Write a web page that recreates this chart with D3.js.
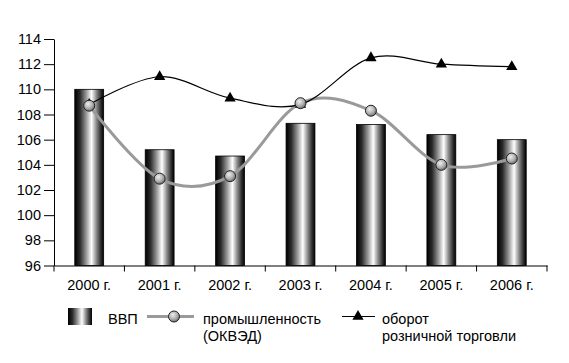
<!DOCTYPE html>
<html><head><meta charset="utf-8">
<script src="https://cdn.jsdelivr.net/npm/d3@7"></script>
<style>
body{margin:0;background:#fff;}
svg{display:block;font-family:"Liberation Sans",Arial,Helvetica,sans-serif;}
</style></head>
<body><svg id="c" width="569" height="363"></svg>
<script>
const years = ["2000 г.","2001 г.","2002 г.","2003 г.","2004 г.","2005 г.","2006 г."];
const gdp = [110.0,105.2,104.7,107.3,107.2,106.4,106.0];
const industry = [108.7,102.9,103.1,108.9,108.3,104.0,104.5];
const retail = [108.8,111.0,109.3,108.8,112.5,112.0,111.8];
const yTicks = [96,98,100,102,104,106,108,110,112,114];
const legendLabels = [["ВВП"],["промышленность","(ОКВЭД)"],["оборот","розничной торговли"]];

const FS = 14.5;
const svg = d3.select("#c");
const x = d3.scaleBand().domain(years).range([54,547]).paddingInner(0).paddingOuter(0);
const y = d3.scaleLinear().domain([96,114]).range([265.5,39]);

const defs = svg.append("defs");
const g1 = defs.append("linearGradient").attr("id","barg").attr("x1","0").attr("x2","1").attr("y1","0").attr("y2","0");
[[0,"#000"],[0.18,"#2a2a2a"],[0.4,"#9a9a9a"],[0.58,"#ffffff"],[0.75,"#8a8a8a"],[0.9,"#303030"],[1,"#000"]]
  .forEach(([o,c])=>g1.append("stop").attr("offset",o).attr("stop-color",c));
const g2 = defs.append("radialGradient").attr("id","circg").attr("cx","0.4").attr("cy","0.35").attr("r","0.65");
[[0,"#eeeeee"],[0.6,"#b0b0b0"],[1,"#707070"]].forEach(([o,c])=>g2.append("stop").attr("offset",o).attr("stop-color",c));

// bars
const bw = x.bandwidth()*0.41;
svg.append("g").selectAll("rect").data(gdp).join("rect")
  .attr("x",(d,i)=>x(years[i])+x.bandwidth()/2-bw/2)
  .attr("y",d=>y(d)).attr("width",bw).attr("height",d=>y(96)-y(d))
  .attr("fill","url(#barg)").attr("stroke","#000").attr("stroke-width",0.8);

// axes
const ya = d3.axisLeft(y).tickValues(yTicks).tickSize(10).tickSizeOuter(0).tickPadding(3).tickFormat(d3.format("d"));
const yg = svg.append("g").attr("transform","translate(54,0)").call(ya);
yg.selectAll("text").attr("font-size",FS).attr("fill","#000").attr("font-family","Liberation Sans, Arial, sans-serif");
yg.selectAll("line,path").attr("stroke","#000");

const xa = d3.axisBottom(x).tickSize(0).tickPadding(14.5).tickSizeOuter(0);
const xg = svg.append("g").attr("transform","translate(0,265.5)").call(xa);
xg.selectAll("text").attr("font-size",FS).attr("fill","#000").attr("font-family","Liberation Sans, Arial, sans-serif");
xg.select("path").attr("stroke","#000");
const bounds = years.map(d=>x(d)).concat([x(years[years.length-1])+x.step()]);
xg.selectAll("line.bt").data(bounds).join("line").attr("class","bt")
  .attr("x1",d=>d).attr("x2",d=>d).attr("y1",0).attr("y2",6).attr("stroke","#000");

const cx = (i)=>x(years[i])+x.bandwidth()/2;
const line = d3.line().x((d,i)=>cx(i)).y(d=>y(d)).curve(d3.curveCatmullRom.alpha(0));

svg.append("path").attr("d",line(industry)).attr("fill","none").attr("stroke","#9a9a9a").attr("stroke-width",3);
svg.append("path").attr("d",line(retail)).attr("fill","none").attr("stroke","#000").attr("stroke-width",1.2);

const tri = d3.symbol().type(d3.symbolTriangle).size(55);
svg.append("g").selectAll("path").data(retail).join("path")
  .attr("d",tri).attr("transform",(d,i)=>`translate(${cx(i)},${y(d)})`).attr("fill","#000");
svg.append("g").selectAll("circle").data(industry).join("circle")
  .attr("cx",(d,i)=>cx(i)).attr("cy",d=>y(d)).attr("r",5.5)
  .attr("fill","url(#circg)").attr("stroke","#222").attr("stroke-width",1);

// legend
const lg = svg.append("g").attr("font-size",FS).attr("fill","#000");
lg.append("rect").attr("x",68).attr("y",308).attr("width",24).attr("height",17).attr("fill","url(#barg)");
lg.append("line").attr("x1",147).attr("x2",194).attr("y1",316.5).attr("y2",316.5).attr("stroke","#9a9a9a").attr("stroke-width",3);
lg.append("circle").attr("cx",174).attr("cy",316.5).attr("r",5.5).attr("fill","url(#circg)").attr("stroke","#222");
lg.append("line").attr("x1",342).attr("x2",375).attr("y1",316.5).attr("y2",316.5).attr("stroke","#000").attr("stroke-width",1.2);
lg.append("path").attr("d",tri).attr("transform","translate(358,316.5)").attr("fill","#000");
const lx = [108,203,382];
legendLabels.forEach((lines,k)=>{
  const t = lg.append("text").attr("x",lx[k]).attr("y",323.5);
  lines.forEach((s,j)=>t.append("tspan").attr("x",lx[k]).attr("dy",j?17:0).text(s));
});
</script></body></html>
